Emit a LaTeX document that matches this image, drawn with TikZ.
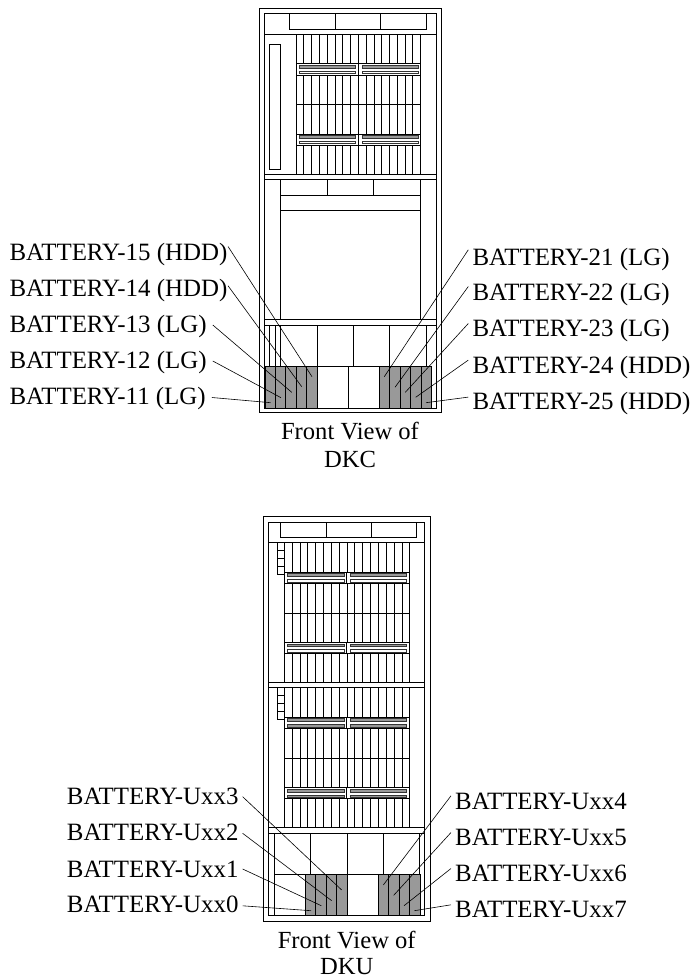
\documentclass[tikz,border=0pt]{standalone}
\usepackage{fontspec}
\setmainfont{Liberation Serif}
\definecolor{battgray}{gray}{0.6}
\tikzset{
    cab/.style={draw=black, line width=0.8pt},
    slotbar/.style={draw=black!80, line width=0.5pt, fill=battgray},
    slotgap/.style={draw=black!80, line width=0.5pt, fill=white},
    batt/.style={draw=black, line width=0.8pt, fill=battgray},
    leader/.style={draw=black, line width=0.6pt},
    lab/.style={anchor=base west, inner ysep=0pt, inner xsep=4pt, text height=13pt, text depth=0pt, font=\fontsize{24.9}{30}\selectfont},
    caption/.style={anchor=base, inner sep=0pt, font=\fontsize{24.6}{30}\selectfont}
}
\begin{document}
\begin{tikzpicture}[x=1pt, y=-1pt]
    \useasboundingbox (0,0) rectangle (693,979);

    % Cabinet DKC: frames
    \draw[cab] (259.3,8.5) rectangle (441.7,412.7);
    \draw[cab] (264.7,13.7) rectangle (436,408);
    \draw[cab] (289,13.7) rectangle (426,29.3);
    \draw[cab] (335,13.7) -- (335,29.3);
    \draw[cab] (380.3,13.7) -- (380.3,29.3);
    \draw[cab] (264.7,34.3) -- (436,34.3);
    \draw[cab] (269.7,44.3) rectangle (280.3,169.3);

    % DKC: drive slots
    \foreach \i in {0,...,16} {
        \draw[cab] ({296+\i*7.79},34.3) -- ({296+\i*7.79},63.3);
        \draw[cab] ({296+\i*7.79},75.3) -- ({296+\i*7.79},134);
        \draw[cab] ({296+\i*7.79},145.3) -- ({296+\i*7.79},174.3);
    }
    \foreach \y in {63.3,75.3,104.7,134,145.3} {
        \draw[cab] (296,\y) -- (420.7,\y);
    }
    \draw[cab] (296,63.3) -- (296,75.3);
    \draw[cab] (420.7,63.3) -- (420.7,75.3);
    \draw[cab] (296,134) -- (296,145.3);
    \draw[cab] (420.7,134) -- (420.7,145.3);
    \draw[cab] (358.3,63.3) -- (358.3,75.3);
    \draw[cab] (358.3,134) -- (358.3,145.3);

    % DKC: bars inside the slot bands
    \foreach \y in {65.3,135.3} {
        \draw[slotbar] (299.3,\y) rectangle (355.3,\y+2.5);
        \draw[slotbar] (362,\y) rectangle (418,\y+2.5);
        \draw[slotgap] (299.3,\y+5.8) rectangle (355.3,\y+8.3);
        \draw[slotgap] (362,\y+5.8) rectangle (418,\y+8.3);
    }

    % DKC: middle section
    \draw[cab] (264.7,174.3) rectangle (436,179.3);
    \draw[cab] (280.7,179.3) rectangle (420.3,319.7);
    \draw[cab] (280.7,195) -- (420.3,195);
    \draw[cab] (327.3,179.3) -- (327.3,195);
    \draw[cab] (373.7,179.3) -- (373.7,195);
    \draw[cab] (280.7,210.7) -- (420.3,210.7);

    % DKC: lower section
    \draw[cab] (264.7,319.7) rectangle (436,325);
    \foreach \x in {269.7,275.3,280.7,317.3,353.3,389.7,426.3} {
        \draw[cab] (\x,325) -- (\x,366);
    }
    \draw[cab] (317.3,366) rectangle (379.3,408);
    \draw[cab] (348,366) -- (348,408);
    \foreach \x in {265,275.4,285.8,296.2,306.6} {
        \draw[batt] (\x,366) rectangle (\x+10.4,408);
    }
    \foreach \x in {379.3,389.7,400.2,410.7,421.2} {
        \draw[batt] (\x,366) rectangle (\x+10.5,408);
    }

    % Cabinet DKU: frames
    \draw[cab] (263.3,516.7) rectangle (430,921);
    \draw[cab] (268.7,522) rectangle (424.7,915.7);
    \draw[cab] (280.7,522) rectangle (416,537.3);
    \draw[cab] (326,522) -- (326,537.3);
    \draw[cab] (371.3,522) -- (371.3,537.3);
    \draw[cab] (268.7,542.3) -- (424.7,542.3);

    % DKU: small stacks left of the slots
    \draw[cab] (277.3,542.3) rectangle (284.3,574);
    \foreach \y in {550,558.3,566.7} {
        \draw[cab] (277.3,\y) -- (284.3,\y);
    }
    \draw[cab] (277.3,687.7) rectangle (284.3,719);
    \foreach \y in {695.7,703.7,711.3} {
        \draw[cab] (277.3,\y) -- (284.3,\y);
    }

    % DKU: drive slots
    \foreach \i in {0,...,16} {
        \draw[cab] ({284.3+\i*7.84},542.3) -- ({284.3+\i*7.84},572.3);
        \draw[cab] ({284.3+\i*7.84},583.3) -- ({284.3+\i*7.84},642.3);
        \draw[cab] ({284.3+\i*7.84},653.3) -- ({284.3+\i*7.84},682.3);
        \draw[cab] ({284.3+\i*7.84},687.7) -- ({284.3+\i*7.84},717.3);
        \draw[cab] ({284.3+\i*7.84},728.3) -- ({284.3+\i*7.84},787.3);
        \draw[cab] ({284.3+\i*7.84},798.3) -- ({284.3+\i*7.84},827.7);
    }
    \foreach \y in {572.3,583.3,613,642.3,653.3,717.3,728.3,758.3,787.3,798.3} {
        \draw[cab] (284.3,\y) -- (409.7,\y);
    }
    \foreach \y in {572.3,642.3,717.3,787.3} {
        \draw[cab] (284.3,\y) -- (284.3,\y+11);
        \draw[cab] (409.7,\y) -- (409.7,\y+11);
        \draw[cab] (346.7,\y) -- (346.7,\y+11);
    }

    % DKU: bars inside the slot bands
    \foreach \y in {573.7,644} {
        \draw[slotbar] (287.3,\y) rectangle (344,\y+2.6);
        \draw[slotbar] (350,\y) rectangle (406,\y+2.6);
        \draw[slotgap] (287.3,\y+5.7) rectangle (344,\y+8.2);
        \draw[slotgap] (350,\y+5.7) rectangle (406,\y+8.2);
    }
    \foreach \y in {718.7,789.3} {
        \draw[slotbar] (287.3,\y) rectangle (344,\y+2.6);
        \draw[slotbar] (350,\y) rectangle (406,\y+2.6);
        \draw[slotbar] (287.3,\y+5.8) rectangle (344,\y+8.4);
        \draw[slotbar] (350,\y+5.8) rectangle (406,\y+8.4);
    }

    % DKU: dividers and lower section
    \draw[cab] (268.7,682.3) rectangle (424.7,687.7);
    \draw[cab] (268.7,827.7) rectangle (424.7,833);
    \draw[cab] (274.3,833) -- (274.3,915.7);
    \draw[cab] (419.3,833) -- (419.3,915.7);
    \foreach \x in {310.3,347,383.3} {
        \draw[cab] (\x,833) -- (\x,874.7);
    }
    \draw[cab] (274.3,874.7) -- (419.3,874.7);
    \foreach \x in {305,315.5,326,336.5} {
        \draw[batt] (\x,874.7) rectangle (\x+10.5,915.7);
    }
    \foreach \x in {378,388.5,399,409.5} {
        \draw[batt] (\x,874.7) rectangle (\x+10.5,915.7);
    }

    % Labels of DKC
    \node[lab, inner xsep=0.5pt, text height=14pt] (B15) at (8.8,260.7) {BATTERY-15 (HDD)};
    \node[lab, inner xsep=0.5pt, text height=10pt] (B14) at (8.8,296) {BATTERY-14 (HDD)};
    \node[lab, inner xsep=6pt, text height=14pt] (B13) at (3.3,332) {BATTERY-13 (LG)};
    \node[lab, inner xsep=6pt, text height=14pt] (B12) at (3.3,368) {BATTERY-12 (LG)};
    \node[lab, inner xsep=6pt, text height=13pt] (B11) at (3.3,404) {BATTERY-11 (LG)};
    \node[lab, text height=15pt] (B21) at (468.3,265) {BATTERY-21 (LG)};
    \node[lab, text height=14pt] (B22) at (468.3,300.7) {BATTERY-22 (LG)};
    \node[lab] (B23) at (468.3,336.7) {BATTERY-23 (LG)};
    \node[lab] (B24) at (468.3,373.3) {BATTERY-24 (HDD)};
    \node[lab, text height=12pt] (B25) at (468.3,409.3) {BATTERY-25 (HDD)};

    % Labels of DKU
    \node[lab, text height=14.6pt] (U3) at (62.7,804) {BATTERY-Uxx3};
    \node[lab, text height=13.4pt] (U2) at (62.7,840) {BATTERY-Uxx2};
    \node[lab, text height=16.6pt] (U1) at (62.7,877.3) {BATTERY-Uxx1};
    \node[lab] (U0) at (62.7,912.3) {BATTERY-Uxx0};
    \node[lab] (U4) at (451,809) {BATTERY-Uxx4};
    \node[lab] (U5) at (451,845.7) {BATTERY-Uxx5};
    \node[lab] (U6) at (451,881.7) {BATTERY-Uxx6};
    \node[lab, text height=12.3pt] (U7) at (451,917.3) {BATTERY-Uxx7};

    % Captions
    \node[caption] (capC1) at (350,439) {Front View of};
    \node[caption] (capC2) at (350,467) {DKC};
    \node[caption] (capU1) at (346.7,948) {Front View of};
    \node[caption] (capU2) at (346.7,974.5) {DKU};

    % Free ends of the leaders
    \coordinate (e15) at (312,376.7);
    \coordinate (e14) at (301.7,386.7);
    \coordinate (e13) at (291.7,392.3);
    \coordinate (e12) at (281,397.7);
    \coordinate (e11) at (270.7,402.7);
    \coordinate (e21) at (384.3,376.7);
    \coordinate (e22) at (395,387.3);
    \coordinate (e23) at (405.3,392.3);
    \coordinate (e24) at (415.7,397.3);
    \coordinate (e25) at (426,402.7);
    \coordinate (eU3) at (341.7,890);
    \coordinate (eU2) at (331.7,900.7);
    \coordinate (eU1) at (321.3,905.7);
    \coordinate (eU0) at (311,910.7);
    \coordinate (eU4) at (383.3,885);
    \coordinate (eU5) at (393.7,895.3);
    \coordinate (eU6) at (404,905.7);
    \coordinate (eU7) at (414.3,910.7);

    % Leaders
    \foreach \i in {15,14} {
        \draw[leader] (B\i.north east) -- (e\i);
    }
    \foreach \i in {13,12,11} {
        \draw[leader] (B\i.east) -- (e\i);
    }
    \foreach \i in {21,22,23,24,25} {
        \draw[leader] (B\i.north west) -- (e\i);
    }
    \foreach \i in {3,2,1,0} {
        \draw[leader] (U\i.east) -- (eU\i);
    }
    \foreach \i in {4,5,6,7} {
        \draw[leader] (U\i.north west) -- (eU\i);
    }

\end{tikzpicture}
\end{document}
